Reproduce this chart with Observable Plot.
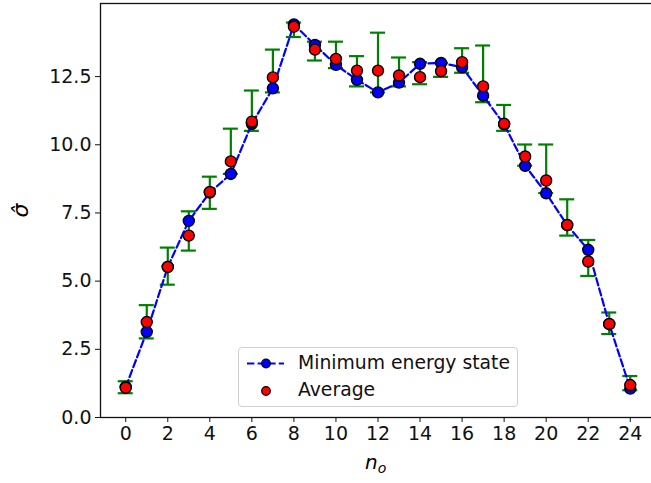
<!DOCTYPE html>
<html>
<head>
<meta charset="utf-8">
<script src="https://cdn.jsdelivr.net/npm/d3@7"></script>
<script src="https://cdn.jsdelivr.net/npm/@observablehq/plot@0.6"></script>
<style>
  html, body { margin: 0; padding: 0; background: #fff; }
  #wrap { position: relative; width: 651px; height: 483px; overflow: hidden; font-family: "DejaVu Sans", sans-serif; }
  .ylab { position: absolute; left: 14px; top: 198px; font-size: 22px; font-style: italic; transform: rotate(-90deg); transform-origin: center; }
  .xlab { position: absolute; left: 365px; top: 450px; font-size: 20px; font-style: italic; }
  .xlab sub { font-size: 14px; vertical-align: -4px; }
  .legend { position: absolute; left: 238px; top: 347px; width: 280px; height: 60px; box-sizing: border-box;
            border: 1px solid #d0d0d0; border-radius: 4px; background: rgba(255,255,255,0.85); }
  .legend svg { position: absolute; left: 0; top: 0; }
  .legend span { position: absolute; left: 59px; font-size: 18.8px; color: #111; white-space: nowrap; }
</style>
</head>
<body>
<div id="wrap"></div>
<script>
// Occupation number n_o
const n = [0, 1, 2, 3, 4, 5, 6, 7, 8, 9, 10, 11, 12, 13, 14, 15, 16, 17, 18, 19, 20, 21, 22, 23, 24];
// sigma-hat of the minimum energy state
const minEnergy = [1.12, 3.14, 5.52, 7.21, 8.25, 8.93, 10.77, 12.07, 14.41, 13.66, 12.93, 12.38, 11.92,
                   12.28, 12.97, 13.00, 12.84, 11.80, 10.75, 9.23, 8.22, 7.05, 6.15, 3.42, 1.06];
// sigma-hat averaged over states
const average = [1.09, 3.50, 5.52, 6.67, 8.27, 9.39, 10.85, 12.47, 14.33, 13.49, 13.15, 12.72, 12.72,
                 12.54, 12.48, 12.70, 13.03, 12.14, 10.77, 9.57, 8.69, 7.06, 5.72, 3.43, 1.19];
// spread of sigma-hat (lower and upper end of the error bars)
const spreadLow = [0.89, 2.90, 4.87, 6.12, 7.65, 8.93, 10.51, 11.92, 13.95, 13.09, 12.81, 12.14, 11.92,
                   12.14, 12.22, 12.49, 12.64, 11.56, 10.51, 9.23, 8.23, 6.67, 5.19, 3.06, 1.00];
const spreadHigh = [1.33, 4.12, 6.23, 7.56, 8.83, 10.59, 11.99, 13.49, 14.48, 13.78, 13.78, 13.25, 14.11,
                    13.20, 13.03, 13.00, 13.54, 13.64, 11.46, 10.01, 10.01, 8.00, 6.51, 3.85, 1.52];
const xTicks = [0, 2, 4, 6, 8, 10, 12, 14, 16, 18, 20, 22, 24];
const yTicks = [0, 2.5, 5, 7.5, 10, 12.5];

const rows = n.map((v, i) => ({
  n: v, min: minEnergy[i], avg: average[i], lo: spreadLow[i], hi: spreadHigh[i]
}));

const BLUE = "#0000ff", RED = "#ff0000", GREEN = "#008000";
const FS = 19;

const chart = Plot.plot({
  width: 651,
  height: 483,
  marginLeft: 100,
  marginRight: -4,
  marginTop: 3,
  marginBottom: 66,
  style: { fontFamily: "DejaVu Sans, sans-serif", fontSize: FS + "px", color: "#111", background: "white" },
  x: { domain: [-1.2, 25.2] },
  y: { domain: [0, 15.18] },
  marks: [
    Plot.axisX({ ticks: xTicks, tickSize: 5, tickPadding: 4, fontSize: FS, label: null, stroke: "#111" }),
    Plot.axisY({ ticks: yTicks, tickSize: 5, tickPadding: 4, fontSize: FS, label: null,
                 tickFormat: d3.format(".1f"), stroke: "#111" }),
    // error bars with caps
    Plot.ruleX(rows, { x: "n", y1: "lo", y2: "hi", stroke: GREEN, strokeWidth: 2.2 }),
    Plot.ruleY(rows, { y: "lo", x1: "n", x2: "n", insetLeft: -7.5, insetRight: -7.5, stroke: GREEN, strokeWidth: 2.2 }),
    Plot.ruleY(rows, { y: "hi", x1: "n", x2: "n", insetLeft: -7.5, insetRight: -7.5, stroke: GREEN, strokeWidth: 2.2 }),
    Plot.line(rows, { x: "n", y: "min", stroke: BLUE, strokeWidth: 2.2, strokeDasharray: "7.4,3.2" }),
    Plot.dot(rows, { x: "n", y: "min", r: 5.5, fill: BLUE, stroke: "black", strokeWidth: 1.4 }),
    Plot.dot(rows, { x: "n", y: "avg", r: 5.5, fill: RED, stroke: "black", strokeWidth: 1.4 }),
    Plot.frame({ stroke: "#111", strokeWidth: 1.3 })
  ]
});

const wrap = document.getElementById("wrap");
wrap.appendChild(chart);

const ylab = document.createElement("div");
ylab.className = "ylab";
ylab.textContent = "σ\u0302";
wrap.appendChild(ylab);

const xlab = document.createElement("div");
xlab.className = "xlab";
xlab.innerHTML = "n<sub>o</sub>";
wrap.appendChild(xlab);

const legend = document.createElement("div");
legend.className = "legend";
legend.innerHTML = `
  <svg width="280" height="60">
    <line x1="8" x2="45" y1="15.5" y2="15.5" stroke="${BLUE}" stroke-width="2.2" stroke-dasharray="7.4,3.2"/>
    <circle cx="27" cy="15.5" r="4.3" fill="${BLUE}" stroke="black" stroke-width="1.2"/>
    <circle cx="27" cy="43" r="4.3" fill="${RED}" stroke="black" stroke-width="1.2"/>
  </svg>
  <span style="top:4px">Minimum energy state</span>
  <span style="top:31px">Average</span>`;
wrap.appendChild(legend);
</script>
</body>
</html>
